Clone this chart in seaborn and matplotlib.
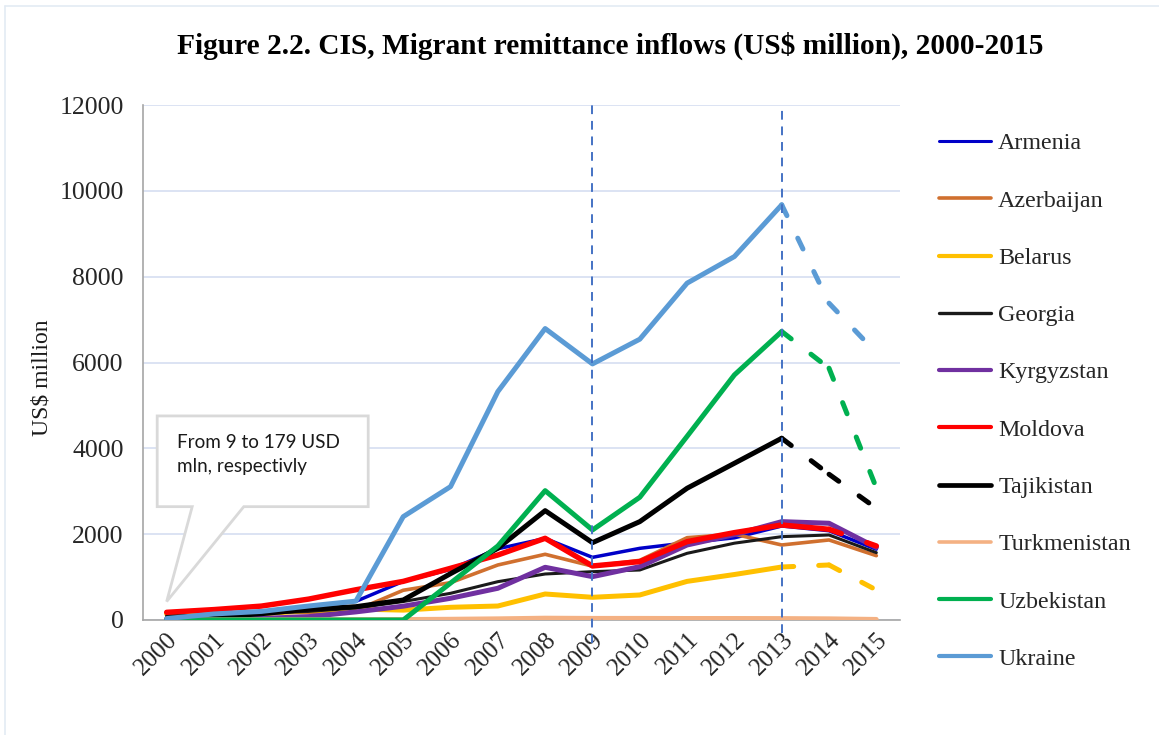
import numpy as np
import pandas as pd
import matplotlib
matplotlib.use("Agg")
import matplotlib.pyplot as plt
from matplotlib.lines import Line2D
from matplotlib.patches import Polygon
import seaborn as sns

# ---- data (US$ million) ----
years = list(range(2000, 2016))
countries = ["Armenia", "Azerbaijan", "Belarus", "Georgia", "Kyrgyzstan",
             "Moldova", "Tajikistan", "Turkmenistan", "Uzbekistan", "Ukraine"]

armenia      = [87, 94, 131, 305, 435, 900, 1180, 1660, 1900, 1460, 1670, 1800, 1915, 2190, 2080, 1650]
azerbaijan   = [57, 104, 182, 171, 227, 693, 870, 1282, 1531, 1255, 1390, 1918, 2000, 1748, 1865, 1499]
belarus      = [139, 149, 141, 222, 256, 230, 296, 326, 606, 529, 583, 900, 1060, 1235, 1282, 699]
georgia      = [100, 110, 150, 200, 280, 430, 622, 893, 1072, 1126, 1165, 1554, 1790, 1942, 1981, 1569]
kyrgyzstan   = [9, 11, 37, 78, 189, 322, 506, 739, 1228, 1010, 1243, 1748, 1990, 2292, 2254, 1690]
moldova      = [179, 243, 324, 487, 705, 900, 1205, 1515, 1904, 1259, 1360, 1826, 2036, 2214, 2114, 1725]
tajikistan   = [20, 70, 146, 252, 310, 466, 1080, 1671, 2548, 1802, 2292, 3070, 3652, 4235, 3396, 2603]
turkmenistan = [5, 8, 10, 10, 12, 14, 20, 30, 45, 40, 40, 38, 38, 36, 30, 16]
uzbekistan   = [0, 0, 0, 0, 0, 0, 860, 1725, 3014, 2098, 2860, 4280, 5711, 6722, 5867, 3077]
ukraine      = [33, 141, 200, 326, 440, 2408, 3108, 5322, 6791, 5967, 6543, 7849, 8469, 9674, 7382, 6224]

values = [armenia, azerbaijan, belarus, georgia, kyrgyzstan,
          moldova, tajikistan, turkmenistan, uzbekistan, ukraine]

colors = ["#0000C8", "#D0702F", "#FFC000", "#1A1A1A", "#7030A0",
          "#FF0000", "#000000", "#F4B183", "#00B050", "#5B9BD5"]
widths = [2.5, 2.6, 3.6, 2.2, 3.6, 3.9, 3.6, 3.4, 3.6, 3.6]
legend_widths = [2.2, 2.6, 3.0, 2.4, 3.0, 3.0, 3.4, 2.6, 3.0, 3.0]

# first year drawn dashed (estimates) for each series; absent = solid throughout
dash_from = {"Belarus": 2013, "Tajikistan": 2013, "Uzbekistan": 2013,
             "Ukraine": 2013, "Moldova": 2014}

sns.set_theme(style="white")
plt.rcParams["font.family"] = ["Liberation Serif", "DejaVu Serif"]

fig = plt.figure(figsize=(11.59, 7.35), dpi=100)
W, H = 1159, 735
ax = fig.add_axes([143 / W, 1 - 620 / H, (900 - 143) / W, (620 - 105) / H])

df = pd.DataFrame({"year": years})
for name, vals in zip(countries, values):
    df[name] = vals

dash_pattern = (0, (2.4, 5.0))
for i, (name, col, lw) in enumerate(zip(countries, colors, widths)):
    z = 3 + i * 0.1
    start = dash_from.get(name)
    solid = df if start is None else df[df["year"] <= start]
    sns.lineplot(data=solid, x="year", y=name, color=col, linewidth=lw,
                 estimator=None, ax=ax, zorder=z, solid_capstyle="round",
                 solid_joinstyle="round")
    if start is not None:
        # each estimated segment restarts its own dash pattern
        for y0 in range(start, years[-1]):
            seg = df[(df["year"] >= y0) & (df["year"] <= y0 + 1)]
            sns.lineplot(data=seg, x="year", y=name, color=col, linewidth=lw,
                         estimator=None, ax=ax, zorder=z,
                         linestyle=dash_pattern, dash_capstyle="round")

# reference years
for yr, bottom in [(2009, -540), (2013, -300)]:
    ax.vlines(yr, bottom, 12000, colors="#4472C4", linewidth=1.4,
              linestyles=(0, (4.5, 3.5)), zorder=10, clip_on=False)

ax.set_xlim(1999.5, 2015.5)
ax.set_ylim(0, 12000)
ax.set_yticks(np.arange(0, 12001, 2000))
ax.set_yticklabels([str(v) for v in range(0, 12001, 2000)], fontsize=18.5,
                   color="#262626")
ax.set_xticks(years)
ax.set_xticklabels([str(y) for y in years], rotation=45, ha="right",
                   rotation_mode="anchor", fontsize=18, color="#262626")
ax.tick_params(axis="both", length=0)
ax.tick_params(axis="x", pad=6)
ax.tick_params(axis="y", pad=14)
ax.set_xlabel("")
ax.set_ylabel("US$ million", fontsize=17, color="#1a1a1a")
ax.yaxis.set_label_coords(-0.12, 0.47)

ax.grid(axis="y", color="#D9E1F2", linewidth=1.3)
ax.grid(axis="x", visible=False)
for side in ["top", "right"]:
    ax.spines[side].set_visible(False)
for side in ["left", "bottom"]:
    ax.spines[side].set_color("#A6A6A6")
    ax.spines[side].set_linewidth(1.2)

# callout box
L, R, T, B = 1999.80, 2004.26, 4755, 2641
tl, tr = 2000.54, 2001.63
tip = (2000.0, 430)
call = Polygon([(L, T), (R, T), (R, B), (tr, B), tip, (tl, B), (L, B)],
               closed=True, facecolor="white", edgecolor="#D9D9D9",
               linewidth=2.0, zorder=20, joinstyle="miter")
ax.add_patch(call)
ax.text(2000.21, 4330, "From 9 to 179 USD\nmln, respectivly", fontsize=13.6,
        family=["Lato", "DejaVu Sans"], color="#1a1a1a", va="top", ha="left",
        linespacing=1.5, zorder=21)

# legend
handles = [Line2D([0], [0], color=c, linewidth=w, solid_capstyle="round")
           for c, w in zip(colors, legend_widths)]
fig.legend(handles, countries, loc="upper left",
           bbox_to_anchor=(929 / W, 1 - 123 / H), frameon=False,
           fontsize=17.3, handlelength=2.2, handletextpad=0.28,
           labelspacing=1.475, borderaxespad=0)

fig.text(610 / W, 1 - 46 / H,
         "Figure 2.2. CIS, Migrant remittance inflows (US$ million), 2000-2015",
         ha="center", va="center", fontsize=21.2, fontweight="bold",
         color="#000000")

# faint page frame
fig.add_artist(Line2D([5 / W, 1], [1 - 6 / H, 1 - 6 / H], color="#E3EBF3",
                      linewidth=1.2, transform=fig.transFigure))
fig.add_artist(Line2D([5 / W, 5 / W], [0, 1 - 6 / H], color="#E3EBF3",
                      linewidth=1.2, transform=fig.transFigure))

fig.savefig("out.png", dpi=100, facecolor="white")
